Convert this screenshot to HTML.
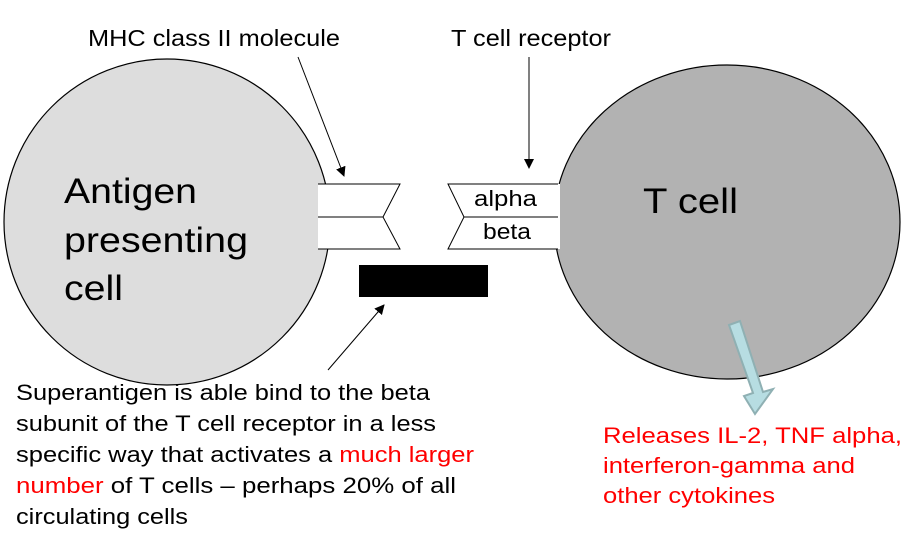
<!DOCTYPE html>
<html><head><style>
body{margin:0;background:#fff;width:904px;height:534px;overflow:hidden;font-family:"Liberation Sans",sans-serif}
</style></head><body>
<svg width="904" height="534" xmlns="http://www.w3.org/2000/svg" font-family="Liberation Sans, sans-serif">
<defs><marker id="a" markerWidth="10" markerHeight="10" refX="9" refY="5" orient="auto" markerUnits="userSpaceOnUse"><path d="M0,0 L10,5 L0,10 z" fill="#000"/></marker></defs>
<ellipse cx="167" cy="222" rx="163" ry="163" fill="#dddddd" stroke="#000" stroke-width="1.2"/>
<ellipse cx="727" cy="222" rx="173" ry="157" fill="#b2b2b2" stroke="#000" stroke-width="1.2"/>
<path d="M318,184 H400 L383,217 L400,249 H318 V184 z" fill="#fff"/>
<path d="M318,184 H400 L383,217 L400,249 H318 M318,217 H383" fill="none" stroke="#000" stroke-width="1"/>
<path d="M560,184 H448 L464,217 L448,249 H560 z" fill="#fff"/>
<path d="M558,184 H448 L464,217 L448,249 H558 M464,217 H558" fill="none" stroke="#000" stroke-width="1"/>
<text x="474" y="206" font-size="22" textLength="63" lengthAdjust="spacingAndGlyphs">alpha</text>
<text x="483" y="239" font-size="22" textLength="48" lengthAdjust="spacingAndGlyphs">beta</text>
<rect x="359" y="265" width="129" height="32" fill="#000"/>
<line x1="298" y1="57" x2="344" y2="176" stroke="#000" marker-end="url(#a)"/>
<line x1="529" y1="57" x2="529" y2="168" stroke="#000" marker-end="url(#a)"/>
<line x1="328" y1="370" x2="384" y2="305" stroke="#000" marker-end="url(#a)"/>
<path d="M729,325 L740,321 L763,392 L773,389 L755,414 L744,396 L753,393 z" fill="#b7dde2" stroke="#8fb0b3" stroke-width="2"/>
<text x="88" y="46" font-size="23" textLength="252" lengthAdjust="spacingAndGlyphs">MHC class II molecule</text>
<text x="451" y="46" font-size="23" textLength="160" lengthAdjust="spacingAndGlyphs">T cell receptor</text>
<text x="64" y="203" font-size="35" textLength="133" lengthAdjust="spacingAndGlyphs">Antigen</text>
<text x="64" y="252" font-size="35" textLength="184" lengthAdjust="spacingAndGlyphs">presenting</text>
<text x="64" y="300" font-size="35" textLength="59" lengthAdjust="spacingAndGlyphs">cell</text>
<text x="643" y="213" font-size="35" textLength="95" lengthAdjust="spacingAndGlyphs">T cell</text>
<g font-size="22" lengthAdjust="spacingAndGlyphs">
<text x="16" y="400" textLength="414" lengthAdjust="spacingAndGlyphs">Superantigen is able bind to the beta</text>
<text x="16" y="431" textLength="420" lengthAdjust="spacingAndGlyphs">subunit of the T cell receptor in a less</text>
<text x="16" y="462" textLength="458" lengthAdjust="spacingAndGlyphs">specific way that activates a <tspan fill="#ff0000">much larger</tspan></text>
<text x="16" y="493" textLength="440" lengthAdjust="spacingAndGlyphs"><tspan fill="#ff0000">number</tspan> of T cells  – perhaps 20% of all</text>
<text x="16" y="524" textLength="172" lengthAdjust="spacingAndGlyphs">circulating cells</text>
</g>
<g font-size="22" fill="#ff0000">
<text x="603" y="443" textLength="299" lengthAdjust="spacingAndGlyphs">Releases IL-2, TNF alpha,</text>
<text x="603" y="473" textLength="252" lengthAdjust="spacingAndGlyphs">interferon-gamma and</text>
<text x="603" y="503" textLength="172" lengthAdjust="spacingAndGlyphs">other cytokines</text>
</g>
</svg>
</body></html>
